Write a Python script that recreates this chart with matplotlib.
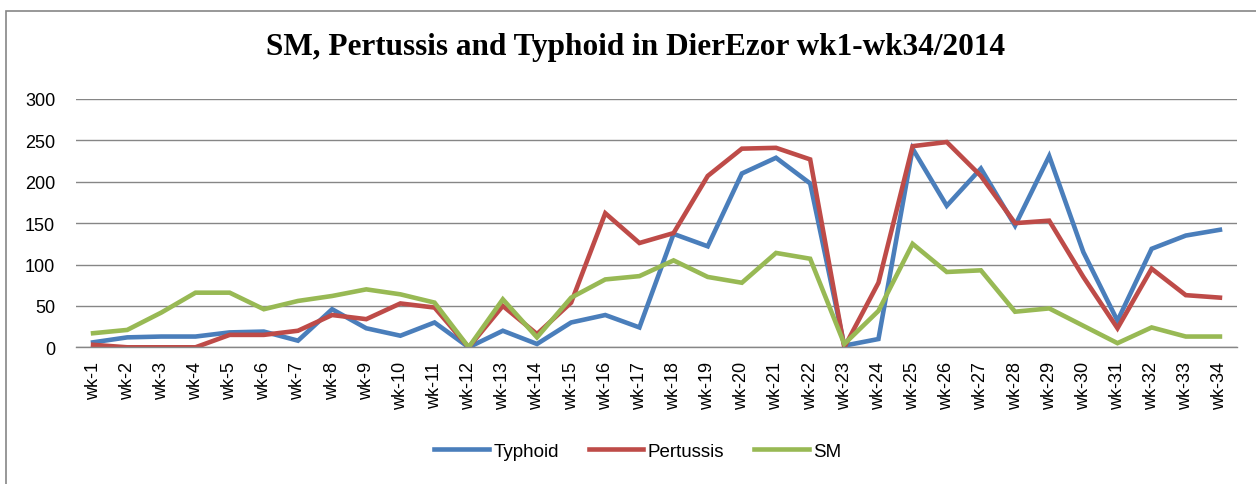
import matplotlib.pyplot as plt
from matplotlib.patches import Rectangle

# weekly counts
weeks = [f"wk-{i}" for i in range(1, 35)]
typhoid = [6, 12, 13, 13, 18, 19, 8, 46, 23, 14, 30, 0,
           20, 4, 30, 39, 24, 137, 122, 210, 229, 198, 2, 10,
           240, 171, 216, 147, 231, 115, 32, 119, 135, 142]
pertussis = [3, 0, 0, 0, 15, 15, 20, 39, 34, 53, 48, 0,
             50, 16, 54, 162, 126, 138, 207, 240, 241, 227, 0, 78,
             243, 248, 207, 150, 153, 85, 23, 95, 63, 60]
sm = [17, 21, 42, 66, 66, 46, 56, 62, 70, 64, 54, 0,
      58, 12, 60, 82, 86, 105, 85, 78, 114, 107, 4, 44,
      125, 91, 93, 43, 47, 26, 5, 24, 13, 13]

series = [("Typhoid", typhoid, "#4A7EBB"),
          ("Pertussis", pertussis, "#BE4B48"),
          ("SM", sm, "#98B954")]

plt.rcParams['font.family'] = ['Liberation Sans', 'DejaVu Sans']

fig = plt.figure(figsize=(12.56, 4.85), dpi=100)
ax = fig.add_axes([76/1256, 1 - 348.3/485, 1161/1256, 248.3/485])

x = range(len(weeks))
for name, vals, col in series:
    ax.plot(x, vals, color=col, lw=3.3, label=name, solid_joinstyle='miter')

ax.set_xlim(-0.5, len(weeks) - 0.5)
ax.set_ylim(0, 300)
ax.set_yticks(range(0, 301, 50))
ax.set_xticks(list(x))
ax.set_xticklabels(weeks, rotation=90, fontsize=13)
ax.tick_params(axis='y', length=0, pad=15, labelsize=13)
ax.tick_params(axis='x', length=0, pad=10)
ax.yaxis.grid(True, color="#868686", lw=1.0)
ax.set_axisbelow(True)
for s in ["top", "right", "left"]:
    ax.spines[s].set_visible(False)
ax.spines["bottom"].set_color("#868686")
ax.spines["bottom"].set_linewidth(1.0)

fig.text(636/1256, 1 - 48/485, "SM, Pertussis and Typhoid in DierEzor wk1-wk34/2014",
         ha="center", va="center", fontsize=22.5, fontweight="bold",
         family="Liberation Serif")

fig.legend(loc="center", bbox_to_anchor=(638/1256, 1 - 452/485), ncol=3,
           frameon=False, fontsize=13.5, handlelength=2.9, columnspacing=1.6,
           handletextpad=0.25)

# chart border
fig.patches.append(Rectangle((6/1256, -0.1), 1.2, 0.1 + (485 - 12)/485,
                             transform=fig.transFigure, fill=False,
                             edgecolor="#868686", lw=1.2))

fig.savefig("out.png", dpi=100)
